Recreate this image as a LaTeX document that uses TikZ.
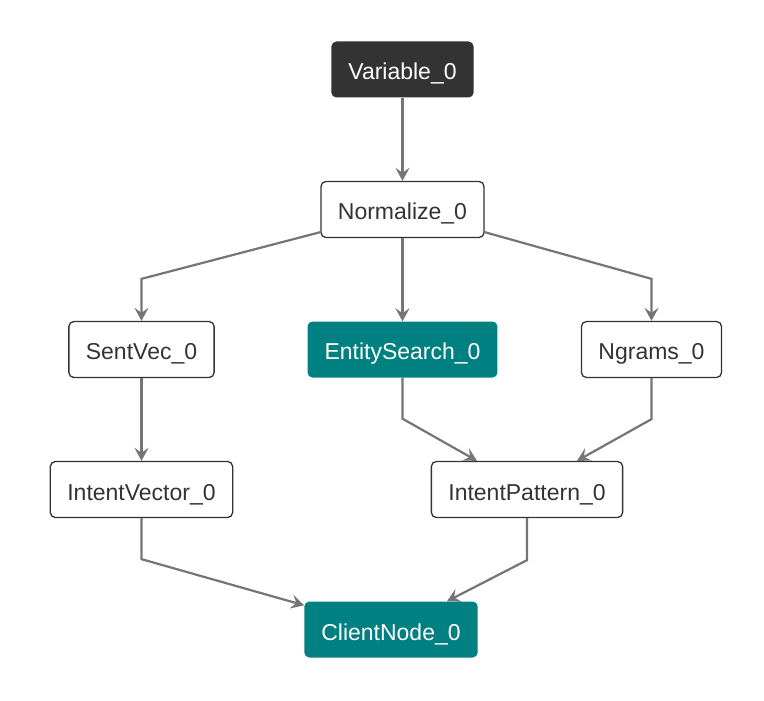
\documentclass[tikz,border=0pt]{standalone}
\usepackage{fontspec}
\setmainfont{Liberation Sans}
\usetikzlibrary{arrows.meta,positioning}
\definecolor{darkbox}{HTML}{333333}
\definecolor{tealbox}{HTML}{008080}
\definecolor{edgegray}{HTML}{757575}

\begin{document}
\begin{tikzpicture}[x=1pt,y=1pt,node distance=140pt,
                    main node/.style={rounded corners=5pt,minimum height=56pt,inner xsep=17pt,
                                      text height=21pt,text depth=0pt,
                                      font=\fontsize{23}{27}\selectfont,text=darkbox},
                    plain node/.style={main node,draw=darkbox,line width=1.3pt,fill=white},
                    dark node/.style={main node,fill=darkbox,text=white},
                    teal node/.style={main node,fill=tealbox,text=white},
                    flow/.style={-{Stealth[length=13pt,width=14pt,inset=5pt]},draw=edgegray,line width=2.2pt}]

        \useasboundingbox (-402.5,69.5) rectangle (361.5,-631.5);

        % Define vertices
        \node[dark node] (var) {Variable\_0};
        \node[plain node] (norm) [below of=var] {Normalize\_0};
        \node[teal node] (ent) [below of=norm] {EntitySearch\_0};
        \node[plain node] (sent) [below of=norm, xshift=-261pt] {SentVec\_0};
        \node[plain node] (ngr) [below of=norm, xshift=249pt] {Ngrams\_0};
        \node[plain node] (vec) [below of=sent] {IntentVector\_0};
        \node[plain node] (pat) [below of=ent, xshift=124.5pt] {IntentPattern\_0};
        \node[teal node] (client) [below of=ent, node distance=280pt, xshift=-11.5pt] {ClientNode\_0};

        % Draw edges
        \draw[flow] (var) -- (norm);
        \draw[flow] (norm) -- (ent);
        \draw[flow] ([yshift=6pt]norm.south west) -- ([yshift=42pt]sent.north) -- (sent);
        \draw[flow] ([yshift=6pt]norm.south east) -- ([yshift=42pt]ngr.north) -- (ngr);
        \draw[flow] (sent) -- (vec);
        \draw[flow] (ent) -- ([yshift=-41pt]ent.south) -- ([xshift=-50pt]pat.north);
        \draw[flow] (ngr) -- ([yshift=-41pt]ngr.south) -- ([xshift=50pt]pat.north);
        \draw[flow] (vec) -- ([yshift=-41pt]vec.south) -- ([yshift=-4pt]client.north west);
        \draw[flow] (pat) -- ([yshift=-42pt]pat.south) -- ([xshift=56pt]client.north);

\end{tikzpicture}
\end{document}
